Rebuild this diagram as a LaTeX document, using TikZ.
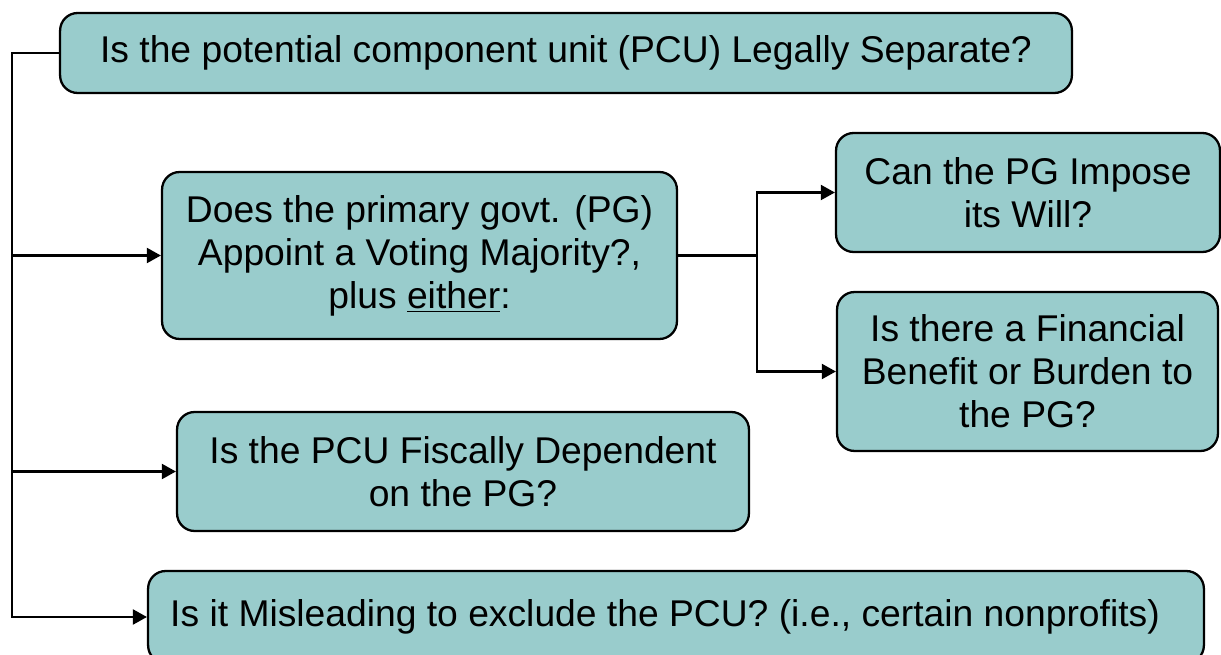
\documentclass[tikz,border=0pt]{standalone}
\usepackage{fontspec}
\setmainfont{Liberation Sans}
\usetikzlibrary{arrows.meta, positioning}
\definecolor{boxteal}{HTML}{99CCCC}

\begin{document}
\begin{tikzpicture}[x=0.02cm, y=-0.02cm,
  qbox/.style={draw, line width=1.3pt, fill=boxteal, rounded corners=10pt,
    align=center, inner sep=0pt, font=\fontsize{21.2}{24.5}\selectfont},
  link/.style={line width=1.3pt},
  tip/.style={link, -{Triangle[length=8pt, width=8.5pt]}}]
\clip (0,0) rectangle (1221,655);

% question boxes
\node[qbox, minimum width=20.24cm, minimum height=1.6cm] (legal) at (566,53)
  {Is the potential component unit (PCU) Legally Separate?};
\node[qbox, minimum width=10.3cm, minimum height=3.34cm] (appoint) at (419.5,255.5)
  {Does the primary govt. (PG)\\ Appoint a Voting Majority?,\\ plus \underline{either}:};
\node[qbox, minimum width=7.68cm, minimum height=2.38cm] (impose) at (1028,192.5)
  {Can the PG Impose\\ its Will?};
\node[qbox, minimum width=7.62cm, minimum height=3.18cm] (benefit) at (1027.5,371.5)
  {Is there a Financial\\ Benefit or Burden to\\ the PG?};
\node[qbox, minimum width=11.44cm, minimum height=2.38cm] (fiscal) at (463,471.5)
  {Is the PCU Fiscally Dependent\\ on the PG?};
\node[qbox, minimum width=21.12cm, minimum height=1.84cm] (mislead) at (676,617)
  {\hspace*{-12.5pt}\raisebox{5pt}{Is it Misleading to exclude the PCU? (i.e., certain nonprofits)}};

% left trunk
\coordinate (trunk) at (12,53);
\draw[tip] (legal.west) -- (trunk) |- (mislead.west);
\draw[tip] (trunk |- appoint.west) -- (appoint.west);
\draw[tip] (trunk |- fiscal.west) -- (fiscal.west);

% right fork
\coordinate (fork) at (757,255.5);
\draw[link] (appoint.east) -- (fork);
\draw[tip] (fork) |- (impose.west);
\draw[tip] (fork) |- (benefit.west);
\end{tikzpicture}
\end{document}
